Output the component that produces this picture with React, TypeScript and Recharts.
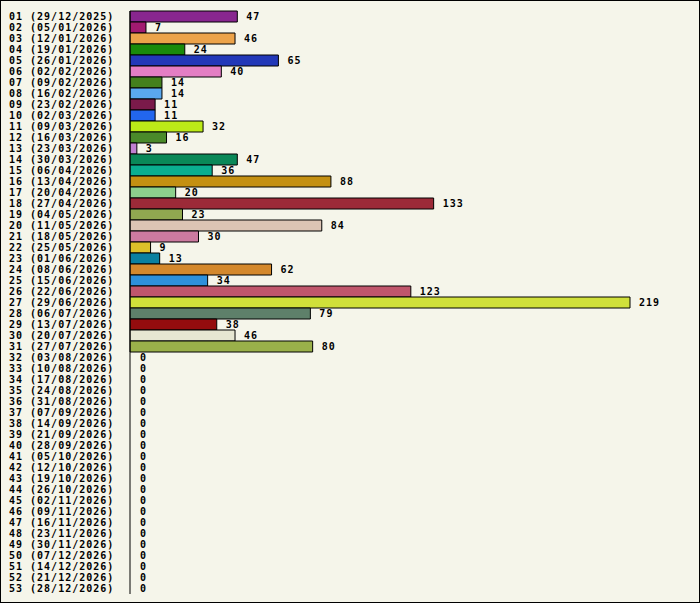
import React from 'react';
import { BarChart, Bar, XAxis, YAxis, Cell, LabelList } from 'recharts';

// Week labels (week number + start date)
const weekLabels = [
  '01 (29/12/2025)', '02 (05/01/2026)', '03 (12/01/2026)', '04 (19/01/2026)',
  '05 (26/01/2026)', '06 (02/02/2026)', '07 (09/02/2026)', '08 (16/02/2026)',
  '09 (23/02/2026)', '10 (02/03/2026)', '11 (09/03/2026)', '12 (16/03/2026)',
  '13 (23/03/2026)', '14 (30/03/2026)', '15 (06/04/2026)', '16 (13/04/2026)',
  '17 (20/04/2026)', '18 (27/04/2026)', '19 (04/05/2026)', '20 (11/05/2026)',
  '21 (18/05/2026)', '22 (25/05/2026)', '23 (01/06/2026)', '24 (08/06/2026)',
  '25 (15/06/2026)', '26 (22/06/2026)', '27 (29/06/2026)', '28 (06/07/2026)',
  '29 (13/07/2026)', '30 (20/07/2026)', '31 (27/07/2026)', '32 (03/08/2026)',
  '33 (10/08/2026)', '34 (17/08/2026)', '35 (24/08/2026)', '36 (31/08/2026)',
  '37 (07/09/2026)', '38 (14/09/2026)', '39 (21/09/2026)', '40 (28/09/2026)',
  '41 (05/10/2026)', '42 (12/10/2026)', '43 (19/10/2026)', '44 (26/10/2026)',
  '45 (02/11/2026)', '46 (09/11/2026)', '47 (16/11/2026)', '48 (23/11/2026)',
  '49 (30/11/2026)', '50 (07/12/2026)', '51 (14/12/2026)', '52 (21/12/2026)',
  '53 (28/12/2026)',
];

const weekCounts = [
  47, 7, 46, 24, 65, 40, 14, 14, 11, 11, 32, 16, 3, 47, 36, 88,
  20, 133, 23, 84, 30, 9, 13, 62, 34, 123, 219, 79, 38, 46, 80,
  0, 0, 0, 0, 0, 0, 0, 0, 0, 0, 0, 0, 0, 0, 0, 0, 0, 0, 0, 0, 0, 0,
];

const barColors = [
  '#88268f', '#a21a70', '#eca34a', '#1a8a0a', '#2238b8', '#e47ec4', '#44801c',
  '#5aa8ee', '#7a1a4a', '#2266ee', '#bcea18', '#4a8a2a', '#c080d0', '#0a8858',
  '#0aae90', '#c49012', '#8cd08c', '#9c2a38', '#90a850', '#dcc4b4', '#cc7aa0',
  '#dcc02a', '#0a80a0', '#d4882c', '#2e90da', '#c0566c', '#d0e03a', '#5e806a',
  '#940c0e', '#e6e6d2', '#9ab04a',
];

const data = weekLabels.map((label, i) => ({ label, count: weekCounts[i] }));

const FONT = '"DejaVu Sans Mono", "Liberation Mono", monospace';

const WeekTick = (props: any) => {
  const { y, payload } = props;
  return (
    <text
      x={9}
      y={y}
      dy="0.36em"
      textAnchor="start"
      fontFamily={FONT}
      fontSize={10}
      letterSpacing={1}
      fontWeight="bold"
      fill="#000"
    >
      {payload.value}
    </text>
  );
};

export default function App() {
  return (
    <div
      style={{
        position: 'absolute',
        left: 0,
        top: 0,
        width: 700,
        height: 603,
        boxSizing: 'border-box',
        border: '1px solid #000',
        background: '#f5f5ea',
      }}
    >
      <div style={{ position: 'absolute', left: -1, top: -1 }}>
        <BarChart
          width={700}
          height={603}
          data={data}
          layout="vertical"
          margin={{ top: 11, right: 70, bottom: 9, left: 0 }}
          barCategoryGap={0}
        >
          <XAxis type="number" domain={[0, 219]} hide />
          <YAxis
            type="category"
            dataKey="label"
            width={130}
            interval={0}
            tickLine={false}
            axisLine={{ stroke: '#000', strokeWidth: 1 }}
            tick={<WeekTick />}
          />
          <Bar
            dataKey="count"
            stroke="#000"
            strokeWidth={1}
            minPointSize={1}
            isAnimationActive={false}
          >
            {data.map((d, i) => (
              <Cell
                key={i}
                fill={d.count ? barColors[i] : 'none'}
                stroke={d.count ? '#000' : 'none'}
              />
            ))}
            <LabelList
              dataKey="count"
              position="right"
              offset={9}
              fill="#000"
              fontFamily={FONT}
              fontSize={10}
              letterSpacing={1}
              fontWeight="bold"
            />
          </Bar>
        </BarChart>
      </div>
    </div>
  );
}
